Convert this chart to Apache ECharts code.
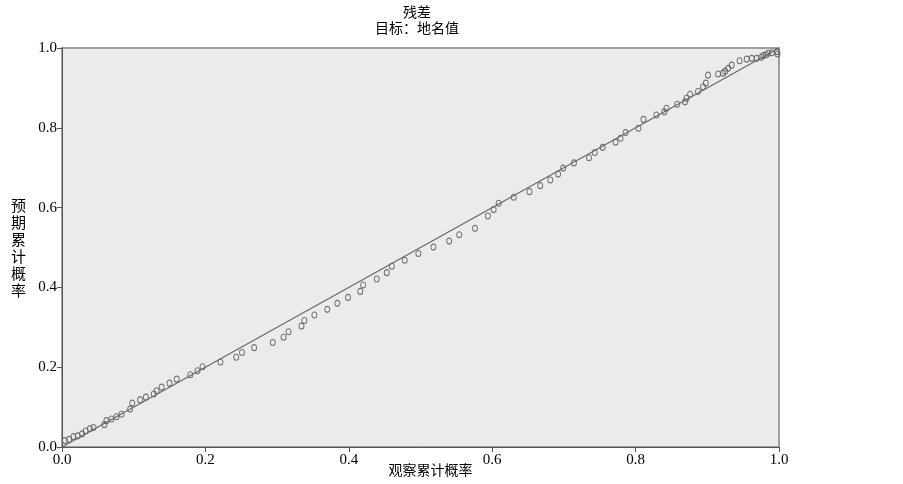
<!DOCTYPE html>
<html>
<head>
<meta charset="utf-8">
<script src="https://cdn.jsdelivr.net/npm/echarts@6/dist/echarts.min.js"></script>
<style>
  html, body { margin: 0; padding: 0; background: #fff; }
  #chart { width: 903px; height: 484px; }
</style>
</head>
<body>
<div id="chart"></div>
<script>
  // 观察累计概率 (x) / 预期累计概率 (y)
  const observed = [
    0.004, 0.010, 0.016, 0.022, 0.028, 0.033, 0.039, 0.044, 0.059, 0.062,
    0.069, 0.076, 0.083, 0.095, 0.098, 0.109, 0.117, 0.128, 0.132, 0.139,
    0.150, 0.160, 0.179, 0.189, 0.196, 0.221, 0.243, 0.251, 0.268, 0.294,
    0.309, 0.316, 0.334, 0.338, 0.352, 0.370, 0.384, 0.399, 0.416, 0.420,
    0.439, 0.453, 0.460, 0.478, 0.497, 0.518, 0.540, 0.554, 0.576, 0.594,
    0.602, 0.609, 0.630, 0.652, 0.667, 0.681, 0.692, 0.699, 0.714, 0.735,
    0.743, 0.754, 0.772, 0.779, 0.786, 0.804, 0.811, 0.829, 0.840, 0.843,
    0.858, 0.869, 0.871, 0.876, 0.887, 0.894, 0.898, 0.901, 0.915, 0.922,
    0.925, 0.929, 0.934, 0.945, 0.955, 0.962, 0.969, 0.975, 0.978, 0.982,
    0.985, 0.990, 0.997, 0.998
  ];
  const expected = [
    0.016, 0.019, 0.026, 0.028, 0.033, 0.040, 0.046, 0.049, 0.056, 0.066,
    0.070, 0.076, 0.082, 0.095, 0.110, 0.118, 0.125, 0.133, 0.141, 0.150,
    0.160, 0.170, 0.181, 0.191, 0.201, 0.213, 0.225, 0.237, 0.249, 0.262,
    0.275, 0.289, 0.303, 0.317, 0.331, 0.345, 0.360, 0.375, 0.390, 0.406,
    0.421, 0.437, 0.453, 0.468, 0.485, 0.501, 0.516, 0.532, 0.548, 0.579,
    0.595, 0.611, 0.626, 0.640, 0.655, 0.669, 0.684, 0.699, 0.712, 0.725,
    0.738, 0.751, 0.764, 0.774, 0.788, 0.799, 0.821, 0.832, 0.840, 0.849,
    0.859, 0.865, 0.874, 0.884, 0.891, 0.903, 0.912, 0.932, 0.935, 0.937,
    0.942, 0.949, 0.957, 0.968, 0.972, 0.974, 0.974, 0.977, 0.981, 0.983,
    0.987, 0.988, 0.991, 0.985
  ];
  const diagonal = [[0, 0], [1, 1]];
  const ticks = [0, 0.2, 0.4, 0.6, 0.8, 1.0];

  const points = observed.map((x, i) => [x, expected[i]]);
  const numFont = '"Liberation Serif", serif';
  const cjkFont = '"Noto Sans CJK SC", sans-serif';

  const chart = echarts.init(document.getElementById('chart'));
  chart.setOption({
    animation: false,
    title: {
      text: '残差',
      subtext: '目标：地名值',
      left: 412,
      textAlign: 'center',
      top: 0,
      itemGap: 2,
      textStyle: { fontFamily: cjkFont, fontSize: 14, fontWeight: 'normal', color: '#000' },
      subtextStyle: { fontFamily: cjkFont, fontSize: 14, color: '#000' }
    },
    grid: {
      left: 62, right: 124, top: 48, bottom: 37,
      outerBoundsMode: 'none',
      containLabel: false,
      show: true,
      backgroundColor: '#ebebeb',
      borderColor: '#a0a0a0',
      borderWidth: 2
    },
    xAxis: {
      type: 'value',
      min: ticks[0], max: ticks[ticks.length - 1], interval: 0.2,
      name: '观察累计概率',
      nameLocation: 'middle',
      nameGap: 16,
      nameMoveOverlap: false,
      nameTextStyle: { fontFamily: cjkFont, fontSize: 14, color: '#000', padding: [0, 0, 0, 20] },
      axisLine: { lineStyle: { color: '#555', width: 1 } },
      axisTick: { length: 5, lineStyle: { color: '#555' } },
      splitLine: { show: false },
      axisLabel: {
        margin: 6,
        fontFamily: numFont, fontSize: 15, color: '#000',
        formatter: v => v.toFixed(1)
      }
    },
    yAxis: {
      type: 'value',
      min: ticks[0], max: ticks[ticks.length - 1], interval: 0.2,
      name: '预期累计概率'.split('').join('\n'),
      nameLocation: 'middle',
      nameRotate: 0,
      nameGap: 36,
      nameMoveOverlap: false,
      nameTextStyle: { fontFamily: cjkFont, fontSize: 15, color: '#000', lineHeight: 17, padding: [0, 0, 8, 0] },
      axisLine: { show: true, lineStyle: { color: '#555', width: 1 } },
      axisTick: { show: true, length: 5, lineStyle: { color: '#555' } },
      splitLine: { show: false },
      axisLabel: {
        margin: 5,
        fontFamily: numFont, fontSize: 15, color: '#000',
        formatter: v => v.toFixed(1)
      }
    },
    series: [
      {
        type: 'line',
        data: diagonal,
        symbol: 'none',
        lineStyle: { color: '#6a6a6a', width: 1.3 },
        silent: true
      },
      {
        type: 'scatter',
        data: points,
        symbol: 'circle',
        symbolSize: [5, 6],
        itemStyle: { color: 'rgba(0,0,0,0)', borderColor: '#555', borderWidth: 1 }
      }
    ]
  });
</script>
</body>
</html>
